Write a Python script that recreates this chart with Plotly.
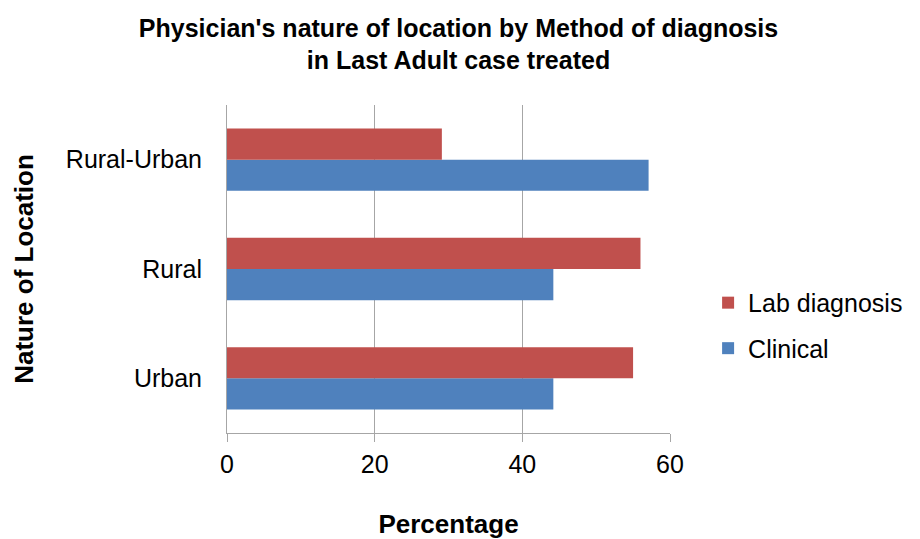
import plotly.graph_objects as go

categories = ["Urban", "Rural", "Rural-Urban"]
clinical = [44.2, 44.2, 57.1]
lab_diagnosis = [55.0, 56.0, 29.1]
x_ticks = [0, 20, 40, 60]

fig = go.Figure()
fig.add_trace(go.Bar(y=categories, x=clinical, orientation="h", name="Clinical",
                     marker=dict(color="#4F81BD", line=dict(width=0)),
                     legendgroup="c", legendrank=2))
fig.add_trace(go.Bar(y=categories, x=lab_diagnosis, orientation="h", name="Lab diagnosis",
                     marker=dict(color="#C0504D", line=dict(width=0)),
                     legendgroup="l", legendrank=1))

font_family = "Liberation Sans, Arial, sans-serif"
# the page body has an 8px margin, so the figure is drawn 8px smaller and offset
fig.update_layout(
    width=912, height=531,
    margin=dict(l=219, r=250, t=97, b=106),
    paper_bgcolor="white", plot_bgcolor="white",
    barmode="group", bargap=0.43, bargroupgap=0,
    font=dict(family=font_family, size=25, color="#000000"),
    title=dict(text="<b>Physician's nature of location by Method of diagnosis<br>in Last Adult case treated</b>",
               x=0.494, xanchor="center", xref="container",
               y=0.946, yanchor="top", yref="container",
               font=dict(size=25, family=font_family, color="#000000")),
    legend=dict(x=1.086, xanchor="left", y=0.328, yanchor="middle",
                traceorder="grouped", tracegroupgap=10,
                font=dict(size=25, family=font_family), itemwidth=30),
    showlegend=True,
)
fig.update_xaxes(range=[0, 60], tickvals=x_ticks, ticktext=[str(v) for v in x_ticks],
                 showgrid=True, gridcolor="#A6A6A6", gridwidth=1,
                 showline=True, linecolor="#A6A6A6", linewidth=1,
                 ticks="outside", ticklen=8, tickcolor="#A6A6A6",
                 ticklabelstandoff=1, zeroline=False, automargin=False,
                 title=dict(text="<b>Percentage</b>", standoff=41, font=dict(size=26)))
fig.update_yaxes(type="category", categoryorder="array", categoryarray=categories,
                 showline=True, linecolor="#A6A6A6", linewidth=1, showgrid=False,
                 ticks="", ticklabelstandoff=19, automargin=False,
                 title=dict(text="<b>Nature of Location</b>", standoff=24, font=dict(size=26)))

fig.write_html("out.html")
